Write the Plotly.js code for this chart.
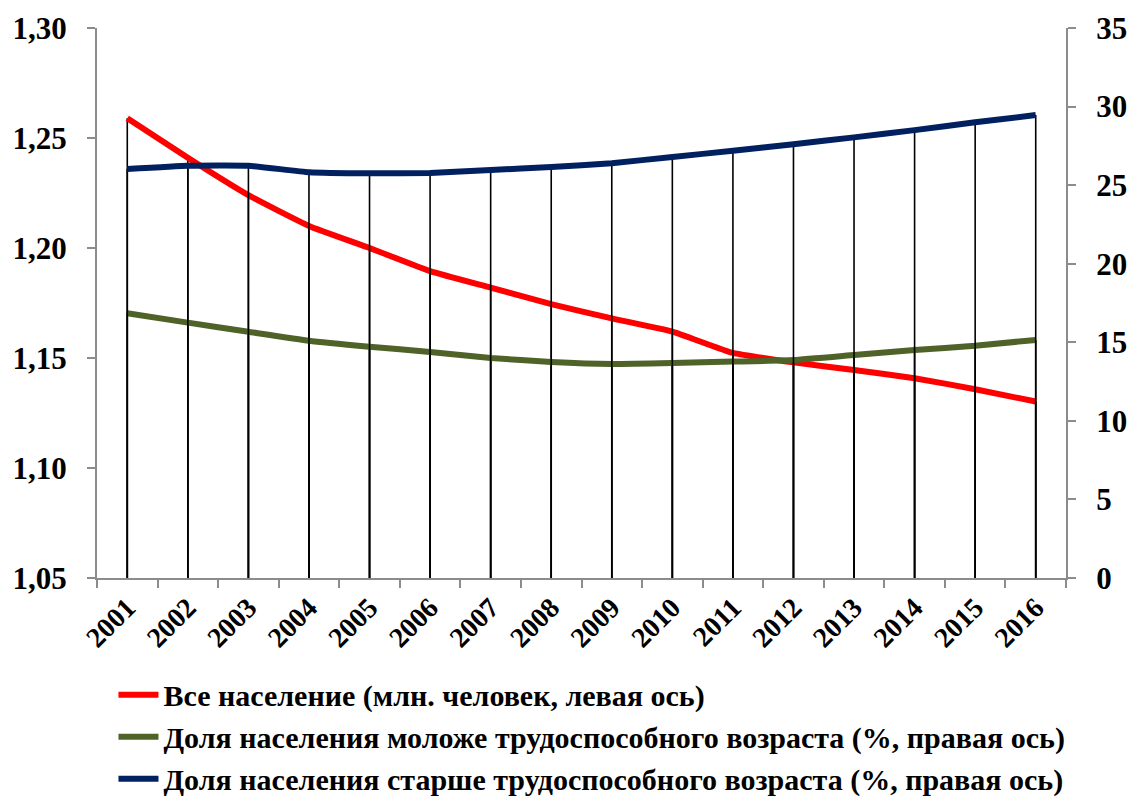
<!DOCTYPE html>
<html>
<head>
<meta charset="utf-8">
<script src="https://cdn.plot.ly/plotly-3.0.1.min.js"></script>
<style>
html,body{margin:0;padding:0;background:#fff;}
#chart{width:1128px;height:805px;}
</style>
</head>
<body>
<div id="chart"></div>
<script>
const years = ["2001","2002","2003","2004","2005","2006","2007","2008","2009","2010","2011","2012","2013","2014","2015","2016"];
const totalPop = [1.259,1.241,1.224,1.210,1.200,1.1895,1.182,1.1745,1.168,1.162,1.1523,1.148,1.1445,1.1408,1.1358,1.1302];
const youngShare = [16.85,16.25,15.67,15.10,14.72,14.38,14.00,13.75,13.62,13.68,13.77,13.87,14.19,14.51,14.78,15.15];
const oldShare = [26.03,26.24,26.24,25.82,25.75,25.77,25.96,26.15,26.40,26.79,27.19,27.60,28.04,28.50,29.00,29.46];
const names = [
  "Все население (млн. человек, левая ось)",
  "Доля населения моложе трудоспособного возраста (%, правая ось)",
  "Доля населения старше трудоспособного возраста (%, правая ось)"
];
const leftMin = 1.05, leftMax = 1.30, rightMin = 0, rightMax = 35;

const FONT = "Liberation Serif";
function drop(vals, base){
  return {type:'data', symmetric:false, array: vals.map(()=>0), arrayminus: vals.map(v=>v-base),
          color:'#000', thickness:1.6, width:0};
}
const traces = [
  {x:years, y:totalPop, name:names[0], type:'scatter', mode:'lines', yaxis:'y',
   line:{color:'#FF0000', width:6, shape:'spline', smoothing:0.4}, error_y: drop(totalPop, leftMin)},
  {x:years, y:youngShare, name:names[1], type:'scatter', mode:'lines', yaxis:'y2',
   line:{color:'#4F6228', width:6, shape:'spline', smoothing:0.4}, error_y: drop(youngShare, rightMin)},
  {x:years, y:oldShare, name:names[2], type:'scatter', mode:'lines', yaxis:'y2',
   line:{color:'#002060', width:6, shape:'spline', smoothing:0.4}, error_y: drop(oldShare, rightMin)}
];
const tickFont = {family:FONT, size:31, color:'#000', weight:'bold'};
const layout = {
  width:1128, height:805,
  margin:{l:97, r:62, t:28, b:227, autoexpand:false},
  paper_bgcolor:'#fff', plot_bgcolor:'#fff',
  font:{family:FONT, color:'#000'},
  separators:', ',
  showlegend:true,
  xaxis:{type:'category', tickangle:-45, tickfont:{family:FONT, size:28, color:'#000', weight:'bold'},
         automargin:false,
         showgrid:false, zeroline:false, showline:true, linecolor:'#8c8c8c', linewidth:2,
         ticks:'outside', tickson:'boundaries', ticklen:8, tickcolor:'#8c8c8c', tickwidth:2,
         range:[-0.5, 15.5]},
  yaxis:{range:[leftMin,leftMax], dtick:0.05, tick0:1.05, tickformat:'.2f', tickfont:tickFont,
         automargin:false, ticklabelstandoff:14,
         showgrid:false, zeroline:false, showline:true, linecolor:'#8c8c8c', linewidth:2,
         ticks:'outside', ticklen:8, tickcolor:'#8c8c8c', tickwidth:2},
  yaxis2:{range:[rightMin,rightMax], dtick:5, tick0:0, overlaying:'y', side:'right', tickfont:tickFont,
          automargin:false, ticklabelstandoff:14,
          showgrid:false, zeroline:false, showline:true, linecolor:'#8c8c8c', linewidth:2,
          ticks:'outside', ticklen:8, tickcolor:'#8c8c8c', tickwidth:2},
  legend:{x:0.017, y:-0.165, xanchor:'left', yanchor:'top', orientation:'v',
          font:{family:FONT, size:30, color:'#000', weight:'bold'}, tracegroupgap:0, itemwidth:40}
};
Plotly.newPlot('chart', traces, layout, {displayModeBar:false, staticPlot:true});
</script>
</body>
</html>
